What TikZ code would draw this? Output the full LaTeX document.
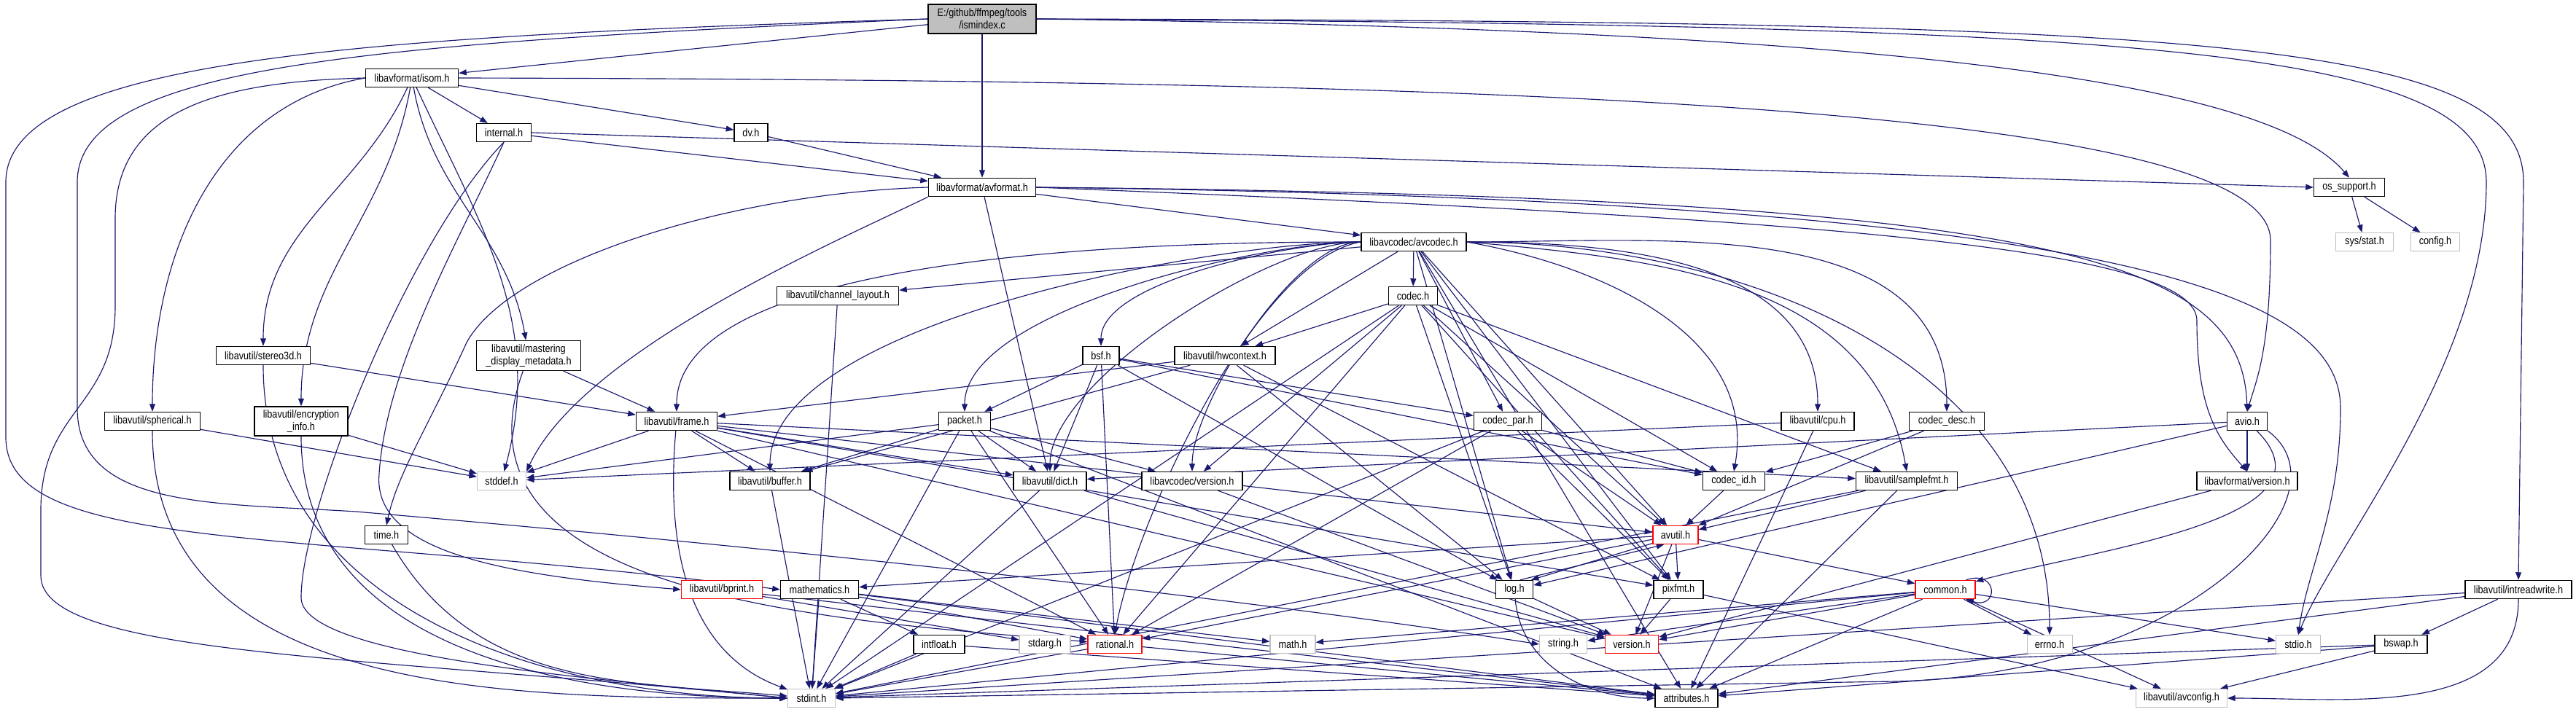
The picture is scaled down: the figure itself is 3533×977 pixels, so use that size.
\documentclass[tikz,border=0pt]{standalone}
\usepackage{fontspec}
\usepackage{tikz}
\usetikzlibrary{arrows.meta,backgrounds}
\newfontfamily\dxfont[FakeStretch=0.85]{Liberation Sans}
\definecolor{edgeblue}{RGB}{25,25,112}
\definecolor{syscol}{RGB}{191,191,191}

\begin{document}
\begin{tikzpicture}[
  x=0.2mm, y=-0.2mm,
  file/.style={draw, line width=0.8pt, fill=white, align=center, inner sep=1pt,
    minimum height=5mm, font=\dxfont\fontsize{8.5}{9.5}\selectfont},
  wd/.style={minimum width=#1*0.2mm},
  sysfile/.style={file, draw=syscol, line width=0.6pt},
  cutfile/.style={file, draw=red},
  srcfile/.style={file, fill=syscol, minimum height=8mm},
  arrow/.style={-{Triangle[length=6pt, width=4.5pt]}, draw=edgeblue, line width=0.65pt}
]
\useasboundingbox (0,0) rectangle (3533,977);

% files
\node[srcfile, wd=148] (main) at (1347,26) {E:/github/ffmpeg/tools\\/ismindex.c};
\node[file, wd=127] (isom) at (565,107) {libavformat/isom.h};
\node[file, wd=75] (internal) at (691,182) {internal.h};
\node[file, wd=46] (dv) at (1030,182) {dv.h};
\node[file, wd=147] (avformat) at (1347,257) {libavformat/avformat.h};
\node[file, wd=144] (avcodec) at (1939,332) {libavcodec/avcodec.h};
\node[file, wd=97] (ossupport) at (3222,257) {os\_support.h};
\node[sysfile, wd=79] (sysstat) at (3243,332) {sys/stat.h};
\node[sysfile, wd=67] (config) at (3340,332) {config.h};
\node[file, wd=167] (chlayout) at (1149,406) {libavutil/channel\_layout.h};
\node[file, wd=67] (codec) at (1938,406) {codec.h};
\node[file, wd=129] (stereo3d) at (361,488) {libavutil/stereo3d.h};
\node[file, wd=143, minimum height=8.2mm] (mastering) at (725,488) {libavutil/mastering\\\_display\_metadata.h};
\node[file, wd=50] (bsf) at (1510,488) {bsf.h};
\node[file, wd=138] (hwcontext) at (1680,488) {libavutil/hwcontext.h};
\node[file, wd=131] (spherical) at (209,578) {libavutil/spherical.h};
\node[file, wd=128, minimum height=8mm] (encryption) at (413,578) {libavutil/encryption\\\_info.h};
\node[file, wd=111] (frame) at (928,578) {libavutil/frame.h};
\node[file, wd=71] (packet) at (1323,578) {packet.h};
\node[file, wd=93] (codecpar) at (2068,578) {codec\_par.h};
\node[file, wd=100] (cpu) at (2493,578) {libavutil/cpu.h};
\node[file, wd=103] (codecdesc) at (2670,578) {codec\_desc.h};
\node[file, wd=55] (avio) at (3082,578) {avio.h};
\node[sysfile, wd=67] (stddef) at (688,660) {stddef.h};
\node[file, wd=110] (buffer) at (1056,660) {libavutil/buffer.h};
\node[file, wd=100] (dict) at (1440,660) {libavutil/dict.h};
\node[file, wd=138] (avcversion) at (1635,660) {libavcodec/version.h};
\node[file, wd=85] (codecid) at (2378,660) {codec\_id.h};
\node[file, wd=139] (samplefmt) at (2615,660) {libavutil/samplefmt.h};
\node[file, wd=138] (avfversion) at (3082,660) {libavformat/version.h};
\node[file, wd=59] (time) at (530,734) {time.h};
\node[cutfile, wd=62] (avutil) at (2298,734) {avutil.h};
\node[cutfile, wd=111] (bprint) at (990,809) {libavutil/bprint.h};
\node[file, wd=107] (mathematics) at (1124,809) {mathematics.h};
\node[file, wd=51] (log) at (2077,809) {log.h};
\node[file, wd=68] (pixfmt) at (2302,809) {pixfmt.h};
\node[cutfile, wd=82] (common) at (2668,809) {common.h};
\node[file, wd=146] (intreadwrite) at (3454,809) {libavutil/intreadwrite.h};
\node[file, wd=70] (intfloat) at (1288,884) {intfloat.h};
\node[sysfile, wd=70] (stdarg) at (1433,884) {stdarg.h};
\node[cutfile, wd=74] (rational) at (1529,884) {rational.h};
\node[sysfile, wd=62] (mathh) at (1773,884) {math.h};
\node[sysfile, wd=65] (stringh) at (2144,884) {string.h};
\node[cutfile, wd=73] (version) at (2238,884) {version.h};
\node[sysfile, wd=62] (errno) at (2811,884) {errno.h};
\node[sysfile, wd=61] (stdio) at (3152,884) {stdio.h};
\node[file, wd=72] (bswap) at (3293,884) {bswap.h};
\node[sysfile, wd=65] (stdint) at (1113,958) {stdint.h};
\node[file, wd=86] (attributes) at (2313,958) {attributes.h};
\node[sysfile, wd=125] (avconfig) at (2992,958) {libavutil/avconfig.h};

\begin{scope}[on background layer]
\fill[white] (0,0) rectangle (3533,977);

% ismindex.c
\draw[arrow] (main) -- (isom);
\draw[arrow] (main) -- (avformat);
\draw[arrow] (main.west) .. controls (500,50) and (8,80) .. (8,250) -- (8,600) .. controls (8,760) and (400,725) .. (mathematics.west);
\draw[arrow] (main.west) .. controls (500,60) and (106,90) .. (106,250) -- (106,560) .. controls (106,700) and (300,690) .. (488,702) .. controls (700,720) and (1500,790) .. (stringh.west);
\draw[arrow] (main.east) .. controls (2500,40) and (3100,100) .. (ossupport.north);
\draw[arrow] (main.east) .. controls (2900,35) and (3410,60) .. (3410,250) .. controls (3410,500) and (3200,750) .. (stdio.north);
\draw[arrow] (main.east) .. controls (3000,30) and (3461,50) .. (3461,250) -- (intreadwrite.north);

% isom.h
\draw[arrow] (isom) -- (internal);
\draw[arrow] (isom) -- (dv);
\draw[arrow] (isom.east) .. controls (2000,110) and (3114,140) .. (3114,330) .. controls (3114,480) and (3095,520) .. (avio.north);
\draw[arrow] (isom) to[out=-115, in=90] (stereo3d);
\draw[arrow] (isom) to[out=-80, in=100] (mastering);
\draw[arrow] (isom.west) to[out=190, in=90] (spherical);
\draw[arrow] (isom) to[out=-100, in=90] (encryption);
\draw[arrow] (isom) to[out=-65, in=75] (stddef);
\draw[arrow] (isom.west) .. controls (300,112) and (158,150) .. (158,300) -- (158,420) .. controls (158,560) and (56,560) .. (56,700) -- (56,790) .. controls (56,900) and (500,900) .. (stdint.west);

% internal.h, dv.h
\draw[arrow] (internal) -- (avformat);
\draw[arrow] (internal.east) -- (ossupport.west);
\draw[arrow] (internal.south) .. controls (560,330) and (413,700) .. (413,820) .. controls (413,900) and (800,930) .. (stdint.west);
\draw[arrow] (internal.south) .. controls (630,330) and (530,500) .. (520,650) .. controls (510,760) and (700,790) .. (bprint.west);
\draw[arrow] (dv) -- (avformat);

% avformat.h
\draw[arrow] (avformat) -- (avcodec);
\draw[arrow] (avformat) -- (dict);
\draw[arrow] (avformat.south west) .. controls (1150,330) and (800,480) .. (stddef.north east);
\draw[arrow] (avformat.west) .. controls (1000,265) and (700,360) .. (640,470) .. controls (590,580) and (545,650) .. (time.north);
\draw[arrow] (avformat.east) .. controls (2800,270) and (3075,350) .. (avio.north);
\draw[arrow] (avformat.east) .. controls (2900,275) and (3210,400) .. (3210,560) .. controls (3210,700) and (3165,780) .. (stdio.north);
\draw[arrow] (avformat.east) .. controls (2500,300) and (3013,340) .. (3013,440) .. controls (3013,560) and (3040,600) .. (avfversion.north);

% os_support.h
\draw[arrow] (ossupport) -- (sysstat);
\draw[arrow] (ossupport) -- (config);

% avcodec.h
\draw[arrow] (avcodec) -- (codec);
\draw[arrow] (avcodec) -- (chlayout);
\draw[arrow] (avcodec.west) to[out=180, in=90, looseness=0.6] (bsf.north);
\draw[arrow] (avcodec.west) to[out=180, in=90, looseness=0.6] (packet.north);
\draw[arrow] (avcodec.west) to[out=180, in=90, looseness=0.6] (frame.north);
\draw[arrow] (avcodec.west) to[out=180, in=90, looseness=0.6] (buffer.north);
\draw[arrow] (avcodec.west) to[out=180, in=90, looseness=0.6] (dict.north);
\draw[arrow] (avcodec.west) to[out=180, in=90, looseness=0.6] (avcversion.north);
\draw[arrow] (avcodec.west) to[out=190, in=80, looseness=0.6] (rational.north);
\draw[arrow] (avcodec) -- (hwcontext);
\draw[arrow] (avcodec) -- (codecpar);
\draw[arrow] (avcodec.east) to[out=0, in=90] (cpu.north);
\draw[arrow] (avcodec.east) to[out=0, in=90] (codecdesc.north);
\draw[arrow] (avcodec.east) to[out=0, in=90] (errno.north);
\draw[arrow] (avcodec.east) to[out=-5, in=100] (samplefmt.north);
\draw[arrow] (avcodec.east) to[out=-10, in=80] (codecid.north);
\draw[arrow] (avcodec) -- (avutil);
\draw[arrow] (avcodec) -- (log);
\draw[arrow] (avcodec) -- (pixfmt);
\draw[arrow] (avcodec) -- (attributes);

% codec.h
\draw[arrow] (codec) -- (hwcontext);
\draw[arrow] (codec) -- (avcversion);
\draw[arrow] (codec) -- (rational);
\draw[arrow] (codec) -- (stdint);
\draw[arrow] (codec) -- (log);
\draw[arrow] (codec) -- (avutil);
\draw[arrow] (codec) -- (pixfmt);
\draw[arrow] (codec) -- (codecid);
\draw[arrow] (codec) -- (samplefmt);

% codec_par.h, codec_desc.h, codec_id.h
\draw[arrow] (codecpar) -- (codecid);
\draw[arrow] (codecpar) -- (avutil);
\draw[arrow] (codecpar) -- (pixfmt);
\draw[arrow] (codecpar) -- (rational);
\draw[arrow] (codecpar) -- (stdint);
\draw[arrow] (codecdesc) -- (codecid);
\draw[arrow] (codecdesc) -- (avutil);
\draw[arrow] (codecid) -- (avutil);

% bsf.h, packet.h, hwcontext.h
\draw[arrow] (bsf) -- (packet);
\draw[arrow] (bsf) -- (dict);
\draw[arrow] (bsf) -- (rational);
\draw[arrow] (bsf) -- (log);
\draw[arrow] (bsf) -- (codecpar);
\draw[arrow] (bsf) -- (codecid);
\draw[arrow] (packet) -- (stddef);
\draw[arrow] (packet) -- (buffer);
\draw[arrow] (packet) -- (dict);
\draw[arrow] (packet) -- (avcversion);
\draw[arrow] (packet) -- (rational);
\draw[arrow] (packet) -- (stdint);
\draw[arrow] (packet) -- (attributes);
\draw[arrow] (hwcontext) -- (frame);
\draw[arrow] (hwcontext) -- (buffer);
\draw[arrow] (hwcontext) -- (log);
\draw[arrow] (hwcontext) -- (pixfmt);

% libavutil headers of the middle rows
\draw[arrow] (stereo3d) -- (frame);
\draw[arrow] (stereo3d) to[out=-90, in=180] (stdint);
\draw[arrow] (mastering) -- (frame);
\draw[arrow] (mastering) to[out=-110, in=175] (rational);
\draw[arrow] (spherical) -- (stddef);
\draw[arrow] (spherical) to[out=-90, in=180] (stdint);
\draw[arrow] (encryption) -- (stddef);
\draw[arrow] (encryption) to[out=-90, in=180] (stdint);
\draw[arrow] (chlayout) -- (stdint);
\draw[arrow] (cpu) -- (stddef);
\draw[arrow] (cpu) -- (attributes);
\draw[arrow] (frame) -- (stddef);
\draw[arrow] (frame) -- (buffer);
\draw[arrow] (frame) -- (dict);
\draw[arrow] (frame) -- (rational);
\draw[arrow] (frame) -- (avutil);
\draw[arrow] (frame) -- (samplefmt);
\draw[arrow] (frame) -- (pixfmt);
\draw[arrow] (frame) -- (version);
\draw[arrow] (frame) to[out=-95, in=160] (stdint);
\draw[arrow] (buffer) -- (stdint);
\draw[arrow] (dict) -- (stdint);
\draw[arrow] (dict) -- (version);
\draw[arrow] (avcversion) -- (version);
\draw[arrow] (samplefmt) -- (avutil);
\draw[arrow] (samplefmt) -- (attributes);
\draw[arrow] (samplefmt) -- (stdint);
\draw[arrow] (time) to[out=-60, in=175] (stdint);

% avutil.h and below
\draw[arrow] (avutil) -- (common);
\draw[arrow] (avutil) -- (pixfmt);
\draw[arrow] (avutil) -- (version);
\draw[arrow] (avutil) -- (rational);
\draw[arrow] (avutil) -- (mathematics);
\draw[arrow] (avutil.200) -- (log.30);
\draw[arrow] (log.60) -- (avutil.220);
\draw[arrow] (log) -- (version);
\draw[arrow] (log) to[out=-85, in=180] (attributes);
\draw[arrow] (pixfmt) -- (version);
\draw[arrow] (pixfmt) -- (avconfig);
\draw[arrow] (common) -- (errno);
\draw[arrow] (common) -- (stdio);
\draw[arrow] (common) -- (avconfig);
\draw[arrow] (common) -- (attributes);
\draw[arrow] (common) -- (version);
\draw[arrow] (common) -- (stringh);
\draw[arrow] (common) -- (mathh);
\draw[arrow] (common) -- (stdint);
\draw[arrow] (common.25) .. controls +(45,-15) and +(45,15) .. (common.-25);
\draw[arrow] (mathematics) -- (stdint);
\draw[arrow] (mathematics) -- (intfloat);
\draw[arrow] (mathematics) -- (rational);
\draw[arrow] (mathematics) -- (mathh);
\draw[arrow] (mathematics) -- (attributes);
\draw[arrow] (bprint) -- (stdarg);
\draw[arrow] (bprint) -- (attributes);
\draw[arrow] (intfloat) -- (stdint);
\draw[arrow] (intfloat) -- (attributes);
\draw[arrow] (rational) -- (stdint);
\draw[arrow] (rational) -- (attributes);

% avio.h, libavformat/version.h
\draw[arrow] (avio) -- (avfversion);
\draw[arrow] (avio) -- (dict);
\draw[arrow] (avio) -- (log);
\draw[arrow] (avio) to[out=-45, in=15] (common);
\draw[arrow] (avio.south east) .. controls (3230,680) and (3000,925) .. (2600,935) -- (stdint.east);
\draw[arrow] (avfversion) -- (version);

% intreadwrite.h, bswap.h
\draw[arrow] (intreadwrite) -- (bswap);
\draw[arrow] (intreadwrite) to[out=-90, in=0] (avconfig);
\draw[arrow] (intreadwrite) -- (attributes);
\draw[arrow] (intreadwrite) -- (stdint);
\draw[arrow] (bswap) -- (avconfig);
\draw[arrow] (bswap) -- (attributes);
\draw[arrow] (bswap) -- (stdint);
\end{scope}
\end{tikzpicture}
\end{document}
